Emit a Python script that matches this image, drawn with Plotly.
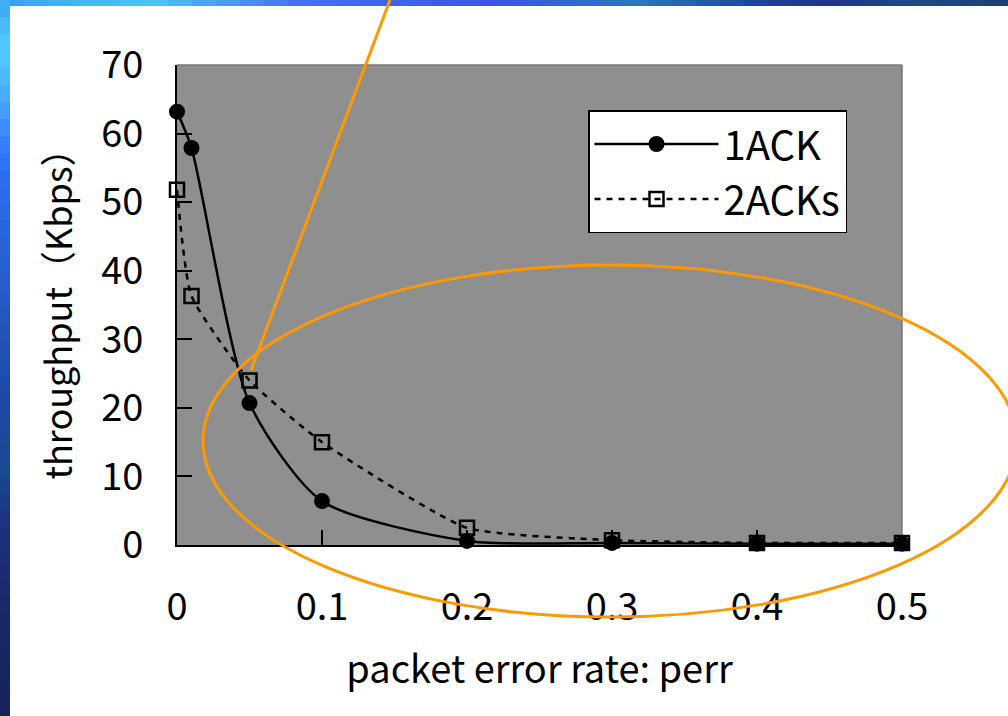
import plotly.graph_objects as go

# ---- data ----
perr = [0, 0.01, 0.05, 0.1, 0.2, 0.3, 0.4, 0.5]
ack1 = [63.2, 57.9, 20.7, 6.4, 0.6, 0.3, 0.2, 0.2]
ack2 = [51.8, 36.3, 24.0, 15.0, 2.5, 0.7, 0.3, 0.3]
x_ticks = [0, 0.1, 0.2, 0.3, 0.4, 0.5]
x_tick_labels = ["0", "0.1", "0.2", "0.3", "0.4", "0.5"]
y_ticks = [0, 10, 20, 30, 40, 50, 60, 70]

W, H = 1008, 716
L, R, T, B = 177, 902, 65, 545  # plot area in pixels

def px(xp):
    return (xp - L) / (R - L)

def py(yp):
    return (B - yp) / (B - T)

FONT = "Noto Sans CJK JP"

fig = go.Figure()
fig.add_trace(go.Scatter(
    x=perr, y=ack1, name="1ACK", mode="lines+markers",
    line=dict(color="black", width=2.5, shape="spline", smoothing=0.7),
    marker=dict(symbol="circle", size=16, color="black"),
    cliponaxis=False,
))
fig.add_trace(go.Scatter(
    x=perr, y=ack2, name="2ACKs", mode="lines+markers",
    line=dict(color="black", width=2.5, dash="6px,6px", shape="spline", smoothing=0.5),
    marker=dict(symbol="square-open", size=14, color="black", line=dict(width=2.5)),
    cliponaxis=False,
))

def hexrgb(h):
    h = h.lstrip("#")
    return tuple(int(h[i:i + 2], 16) for i in (0, 2, 4))

def interp(stops, t):
    for (t0, c0), (t1, c1) in zip(stops, stops[1:]):
        if t0 <= t <= t1:
            f = (t - t0) / (t1 - t0) if t1 > t0 else 0
            a, b = hexrgb(c0), hexrgb(c1)
            return "rgb(%d,%d,%d)" % tuple(round(a[i] + (b[i] - a[i]) * f) for i in range(3))
    return stops[-1][1]

shapes = []
top_stops = [(0, "#3aa0f0"), (150, "#48c8fa"), (300, "#4870ee"), (500, "#3e55e0"),
             (640, "#2878c0"), (760, "#2040a0"), (830, "#22338f"), (920, "#1e4a88"), (1008, "#1c4068")]
n = 42
for i in range(n):
    x0 = W * i / n
    x1 = W * (i + 1) / n + 1
    shapes.append(dict(type="rect", xref="paper", yref="paper", x0=px(x0), x1=px(x1), y0=py(6), y1=py(0),
                       fillcolor=interp(top_stops, (x0 + x1) / 2), line=dict(width=0), layer="above"))
left_stops = [(0, "#3aa8f0"), (50, "#55ccff"), (100, "#4aa8f8"), (140, "#3a80ff"), (170, "#2e70f0"),
              (250, "#2a62d8"), (330, "#2455b8"), (400, "#1e48a8"), (470, "#1a4a90"), (530, "#1e3080"),
              (600, "#1a2a68"), (716, "#16245a")]
for i in range(n):
    y0 = H * i / n
    y1 = H * (i + 1) / n + 1
    shapes.append(dict(type="rect", xref="paper", yref="paper", x0=px(0), x1=px(10), y0=py(y1), y1=py(y0),
                       fillcolor=interp(left_stops, (y0 + y1) / 2), line=dict(width=0), layer="above"))

# top and right border of the plot area
shapes.append(dict(type="line", xref="paper", yref="paper", x0=0, x1=1, y0=1, y1=1,
                   line=dict(color="#777777", width=1.5), layer="below"))
shapes.append(dict(type="line", xref="paper", yref="paper", x0=1, x1=1, y0=0, y1=1,
                   line=dict(color="#777777", width=1.5), layer="below"))
# orange highlight
shapes.append(dict(type="circle", xref="paper", yref="paper", x0=px(203), x1=px(1017), y0=py(617), y1=py(265),
                   line=dict(color="#ff9900", width=3), layer="above"))
shapes.append(dict(type="line", xref="paper", yref="paper", x0=px(390), y0=py(0), x1=px(251), y1=py(370),
                   line=dict(color="#ff9900", width=3), layer="above"))

fig.update_layout(
    width=W, height=H,
    margin=dict(l=L, r=W - R, t=T, b=H - B),
    paper_bgcolor="white",
    plot_bgcolor="#8f8f8f",
    font=dict(family=FONT, color="black", size=38),
    showlegend=True,
    legend=dict(
        x=px(588), y=py(110), xanchor="left", yanchor="top",
        bgcolor="white", bordercolor="black", borderwidth=1.5,
        font=dict(family=FONT, size=40), itemwidth=124,
    ),
    shapes=shapes,
    xaxis=dict(
        range=[0, 0.5], tickvals=x_ticks, ticktext=x_tick_labels,
        showgrid=False, zeroline=False, showline=True, linecolor="black", linewidth=2,
        ticks="inside", ticklen=15, tickcolor="black", tickwidth=1.5,
        ticklabelstandoff=27, tickfont=dict(size=38),
        title=dict(text="packet error rate: perr", font=dict(size=38), standoff=27),
    ),
    yaxis=dict(
        range=[0, 70], tickvals=y_ticks,
        showgrid=False, zeroline=False, showline=True, linecolor="black", linewidth=2,
        ticks="inside", ticklen=15, tickcolor="black", tickwidth=1.5,
        ticklabelstandoff=24, tickfont=dict(size=38),
        title=dict(text="throughput（Kbps）", font=dict(size=36), standoff=18),
    ),
)

fig.write_html("out.html")
